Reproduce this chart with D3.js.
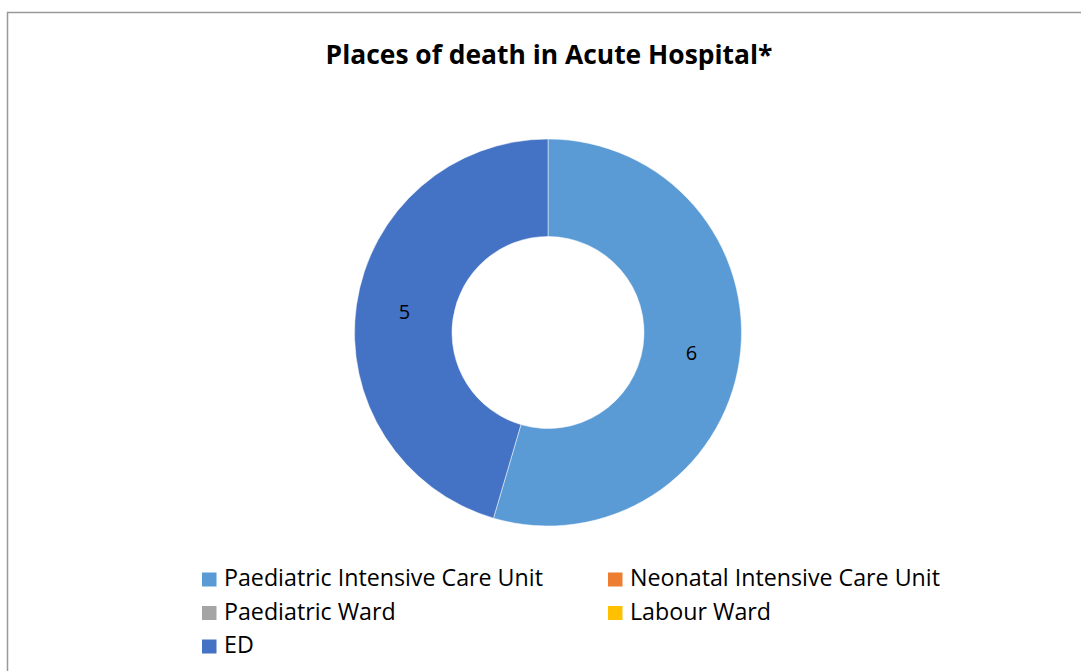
<!DOCTYPE html>
<html><head><meta charset="utf-8">
<script src="https://cdn.jsdelivr.net/npm/d3@7"></script>
<style>body{margin:0;background:#fff}svg{display:block}</style>
</head><body>
<script>
const categories = ["Paediatric Intensive Care Unit","Neonatal Intensive Care Unit","Paediatric Ward","Labour Ward","ED"];
const values = [6,0,0,0,5];
const colors = ["#5B9BD5","#ED7D31","#A5A5A5","#FFC000","#4472C4"];
const title = "Places of death in Acute Hospital*";

const W=1081,H=671;
const svg=d3.select("body").append("svg").attr("width",W).attr("height",H);
svg.append("rect").attr("x",7.5).attr("y",12.5).attr("width",W+10).attr("height",H+10)
  .attr("fill","#fff").attr("stroke","#999").attr("stroke-width",1.5);
const font="'Open Sans', 'Noto Sans', sans-serif";

function fit(sel, target){
  const w=sel.node().getComputedTextLength();
  const fs=+sel.attr("font-size");
  return fs*target/w;
}
const t=svg.append("text").attr("x",549).attr("y",64).attr("text-anchor","middle")
  .attr("font-family",font).attr("font-weight","bold").attr("font-size",26).attr("fill","#000").text(title);
t.attr("font-size",fit(t,447));

const cx=548,cy=332.5,rO=193.5,rI=96;
const data=categories.map((c,i)=>({c,v:values[i],col:colors[i]}));
const pie=d3.pie().value(d=>d.v).sort(null);
const arc=d3.arc().innerRadius(rI).outerRadius(rO);
const lab=d3.arc().innerRadius(145).outerRadius(145);
const g=svg.append("g").attr("transform",`translate(${cx},${cy})`);
const arcs=pie(data).filter(d=>d.data.v>0);
g.selectAll("path").data(arcs).join("path").attr("d",arc).attr("fill",d=>d.data.col)
  .attr("stroke","#fff").attr("stroke-width",0.5);
g.selectAll("text").data(arcs).join("text")
  .attr("transform",d=>`translate(${lab.centroid(d)})`)
  .attr("text-anchor","middle").attr("dy","0.36em")
  .attr("font-family",font).attr("font-size",20).attr("fill","#000").text(d=>d.data.v);

const colX=[202,608], rowY=[586,619.5,653];
const lg=svg.append("g");
const probe=svg.append("text").attr("font-family",font).attr("font-size",22).text(categories[0]);
const lfs=fit(probe,319); probe.remove();
data.forEach((d,i)=>{
  const x=colX[i%2], y=rowY[Math.floor(i/2)];
  lg.append("rect").attr("x",x).attr("y",y-13.5).attr("width",14.5).attr("height",14).attr("fill",d.col);
  lg.append("text").attr("x",x+22).attr("y",y)
    .attr("font-family",font).attr("font-size",lfs).attr("fill","#000").text(d.c);
});
</script>
</body></html>
